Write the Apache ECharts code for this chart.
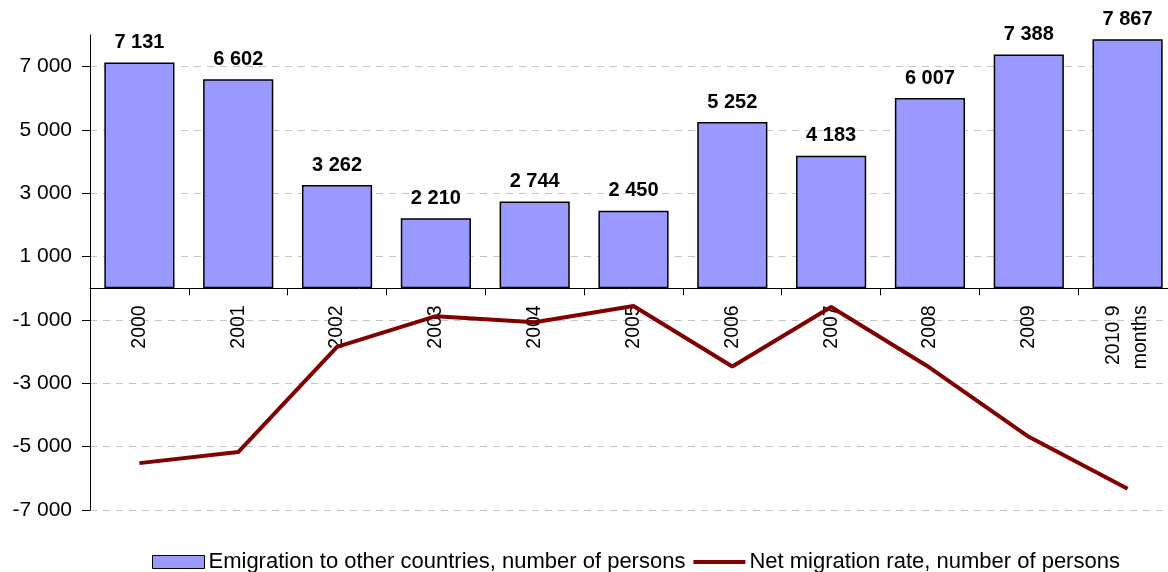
<!DOCTYPE html>
<html>
<head>
<meta charset="utf-8">
<title>Emigration and net migration</title>
<script src="https://cdn.jsdelivr.net/npm/echarts@6/dist/echarts.min.js"></script>
<style>
  html, body { margin: 0; padding: 0; background: #ffffff; }
  #chart { width: 1168px; height: 572px; }
</style>
</head>
<body>
<div id="chart"></div>
<script>
// Years on the category axis (the last one covers nine months only)
const categories = ['2000', '2001', '2002', '2003', '2004', '2005', '2006', '2007', '2008', '2009', '2010 9\nmonths'];

// Emigration to other countries, persons
const emigration = [7131, 6602, 3262, 2210, 2744, 2450, 5252, 4183, 6007, 7388, 7867];

// Net migration, persons
const netMigration = [-5520, -5170, -1850, -880, -1070, -560, -2470, -590, -2510, -4690, -6330];

// Value-axis labels and gridlines
const yTicks = [-7000, -5000, -3000, -1000, 1000, 3000, 5000, 7000];

const seriesNames = ['Emigration to other countries, number of persons', 'Net migration rate, number of persons'];

const FONT = 'Liberation Sans, Arial, sans-serif';

function spaced(v) {
  return String(v).replace(/\B(?=(\d{3})+(?!\d))/g, ' ');
}

const chart = echarts.init(document.getElementById('chart'), null, { renderer: 'canvas' });

chart.setOption({
  animation: false,
  backgroundColor: '#ffffff',
  textStyle: { fontFamily: FONT },
  grid: { left: 90, right: -9, top: 35, bottom: 62, containLabel: false, outerBoundsMode: 'none' },
  legend: {
    top: 546,
    left: 147,
    itemWidth: 52,
    itemHeight: 13,
    itemGap: 8,
    symbolKeepAspect: true,
    textStyle: { fontFamily: FONT, fontSize: 22, color: '#000000', padding: [0, 0, 0, -1] },
    data: [
      { name: seriesNames[0], icon: 'rect', itemStyle: { color: '#9999ff', borderColor: '#000000', borderWidth: 1 } },
      { name: seriesNames[1], icon: 'path://M0,0 L52,0 L52,4 L0,4 Z', itemStyle: { color: '#800000', borderWidth: 0 } }
    ]
  },
  xAxis: {
    type: 'category',
    data: categories,
    boundaryGap: true,
    offset: 0,
    axisLine: { show: true, onZero: false, lineStyle: { color: '#000000', width: 1 } },
    axisTick: { show: true, length: 7, lineStyle: { color: '#000000' } },
    axisLabel: {
      rotate: 90,
      margin: 17,
      interval: 0,
      fontFamily: FONT,
      fontSize: 19.5,
      lineHeight: 27,
      color: '#000000'
    },
    splitLine: { show: false }
  },
  yAxis: {
    type: 'value',
    min: -7000,
    max: 8000,
    interval: 1000,
    axisLine: { show: true, lineStyle: { color: '#000000', width: 1 } },
    axisTick: { show: true, length: 8, customValues: yTicks, lineStyle: { color: '#000000' } },
    axisLabel: {
      customValues: yTicks,
      margin: 18,
      fontFamily: FONT,
      fontSize: 21,
      color: '#000000',
      formatter: spaced
    },
    splitLine: { show: true, lineStyle: { color: '#c4c4c4', type: [7, 6], width: 1 } }
  },
  series: [
    {
      name: seriesNames[0],
      type: 'bar',
      data: emigration,
      barWidth: '71%',
      itemStyle: { color: '#9999ff', borderColor: '#000000', borderWidth: 1.5 },
      label: {
        show: true,
        position: 'top',
        distance: 10,
        fontFamily: FONT,
        fontWeight: 'bold',
        fontSize: 20,
        color: '#000000',
        formatter: p => spaced(p.value)
      },
      z: 2
    },
    {
      name: seriesNames[1],
      type: 'line',
      data: netMigration,
      symbol: 'none',
      lineStyle: { color: '#800000', width: 4 },
      itemStyle: { color: '#800000' },
      z: 5
    }
  ]
});

// Lift the category axis (line, ticks and labels) up to the zero value
const zeroY = chart.convertToPixel({ yAxisIndex: 0 }, 0);
const bottomY = chart.convertToPixel({ yAxisIndex: 0 }, -7000);
chart.setOption({ xAxis: { offset: zeroY - bottomY } });
</script>
</body>
</html>
